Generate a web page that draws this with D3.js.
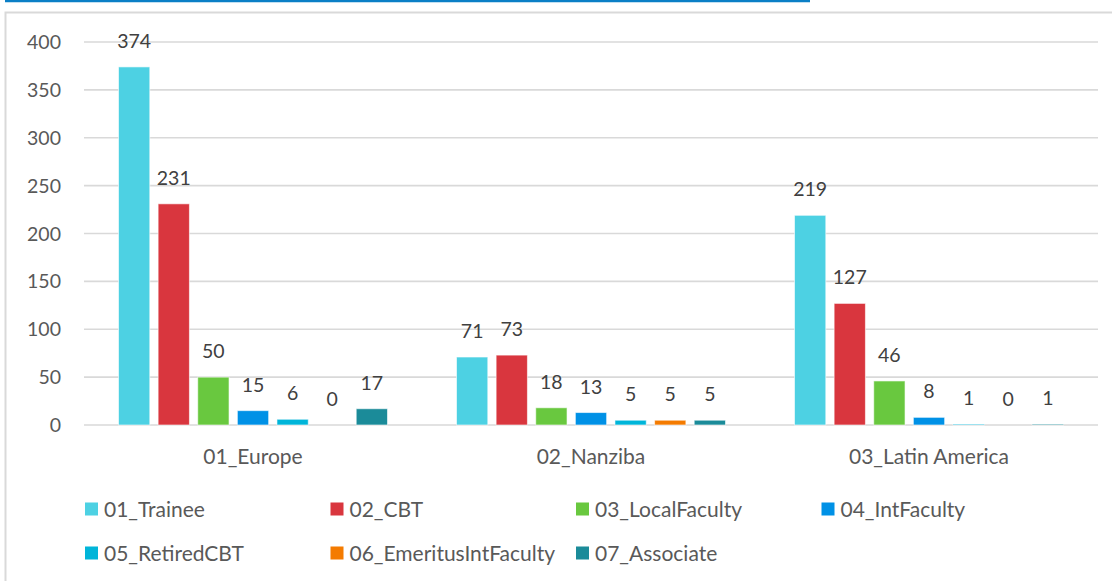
<!DOCTYPE html>
<html lang="en">
<head>
    <meta charset="UTF-8">
    <title>Members by region and category</title>
    <script src="https://d3js.org/d3.v7.min.js"></script>
    <style>
        body, html {
            margin: 0;
            padding: 0;
            background: #fff;
        }
        svg {
            display: block;
            font-family: Lato, "Open Sans", sans-serif;
        }
        .tick-label, .cat-label, .legend text {
            fill: #595959;
        }
        .value-label {
            fill: #404040;
        }
    </style>
</head>
<body>
    <script>
        const regions = ["01_Europe", "02_Nanziba", "03_Latin America"];
        const categories = ["01_Trainee", "02_CBT", "03_LocalFaculty", "04_IntFaculty",
                            "05_RetiredCBT", "06_EmeritusIntFaculty", "07_Associate"];
        const europe = [374, 231, 50, 15, 6, 0, 17];
        const nanziba = [71, 73, 18, 13, 5, 5, 5];
        const latinAmerica = [219, 127, 46, 8, 1, 0, 1];
        const yTicks = [0, 50, 100, 150, 200, 250, 300, 350, 400];
        const colors = ["#4dd1e3", "#d9363e", "#69c83f", "#0091e6", "#00b5d9", "#f47b00", "#1b8b99"];

        const seriesByRegion = [europe, nanziba, latinAmerica];

        const width = 1112;
        const height = 581;

        const svg = d3.select("body").append("svg")
            .attr("width", width)
            .attr("height", height);

        // cut-off title underline and chart frame
        svg.append("line")
            .attr("x1", 5).attr("x2", 810)
            .attr("y1", 1).attr("y2", 1)
            .attr("stroke", "#0a7fc6")
            .attr("stroke-width", 2.5);

        svg.append("rect")
            .attr("x", 5.5).attr("y", 12.5)
            .attr("width", 1300).attr("height", 800)
            .attr("fill", "none")
            .attr("stroke", "#d9d9d9")
            .attr("stroke-width", 2);

        const x0 = d3.scaleBand()
            .domain(regions)
            .range([84, 1098]);

        const x1 = d3.scaleBand()
            .domain(categories)
            .range([34.5, x0.bandwidth() - 34.5])
            .paddingInner(0.21);

        const y = d3.scaleLinear()
            .domain([0, 400])
            .range([425, 42]);

        const color = d3.scaleOrdinal()
            .domain(categories)
            .range(colors);

        // gridlines
        svg.append("g")
            .selectAll("line")
            .data(yTicks)
            .enter().append("line")
            .attr("x1", 84)
            .attr("x2", 1098)
            .attr("y1", d => y(d))
            .attr("y2", d => y(d))
            .attr("stroke", "#d9d9d9")
            .attr("stroke-width", 1.6);

        svg.append("g")
            .selectAll("text")
            .data(yTicks)
            .enter().append("text")
            .attr("class", "tick-label")
            .attr("x", 61)
            .attr("y", d => y(d))
            .attr("dy", "0.36em")
            .attr("text-anchor", "end")
            .attr("font-size", 19.5)
            .text(d => d);

        const groups = svg.append("g")
            .selectAll("g")
            .data(regions)
            .enter().append("g")
            .attr("transform", d => `translate(${x0(d)},0)`);

        const cells = groups.selectAll("g")
            .data((r, i) => categories.map((c, j) => ({ cat: c, value: seriesByRegion[i][j] })))
            .enter().append("g");

        cells.append("rect")
            .attr("x", d => x1(d.cat))
            .attr("y", d => y(d.value))
            .attr("width", x1.bandwidth())
            .attr("height", d => y(0) - y(d.value))
            .attr("fill", d => color(d.cat))
            .attr("stroke", "#fff")
            .attr("stroke-opacity", 0.6)
            .attr("stroke-width", 1);

        cells.append("text")
            .attr("class", "value-label")
            .attr("x", d => x1(d.cat) + x1.bandwidth() / 2)
            .attr("y", d => y(d.value) - 26)
            .attr("dy", "0.36em")
            .attr("text-anchor", "middle")
            .attr("font-size", 19.5)
            .text(d => d.value);

        svg.append("g")
            .selectAll("text")
            .data(regions)
            .enter().append("text")
            .attr("class", "cat-label")
            .attr("x", d => x0(d) + x0.bandwidth() / 2)
            .attr("y", 456)
            .attr("dy", "0.36em")
            .attr("text-anchor", "middle")
            .attr("font-size", 21)
            .text(d => d);

        // legend: 4 columns, 2 rows
        const legend = svg.append("g")
            .attr("class", "legend")
            .selectAll("g")
            .data(categories)
            .enter().append("g")
            .attr("transform", (d, i) => `translate(${85 + (i % 4) * 245.5},${509 + Math.floor(i / 4) * 44})`);

        legend.append("rect")
            .attr("x", 0)
            .attr("y", -6.5)
            .attr("width", 13)
            .attr("height", 13)
            .attr("fill", d => color(d));

        legend.append("text")
            .attr("x", 19)
            .attr("y", 0)
            .attr("dy", "0.36em")
            .attr("font-size", 21)
            .text(d => d);
    </script>
</body>
</html>
